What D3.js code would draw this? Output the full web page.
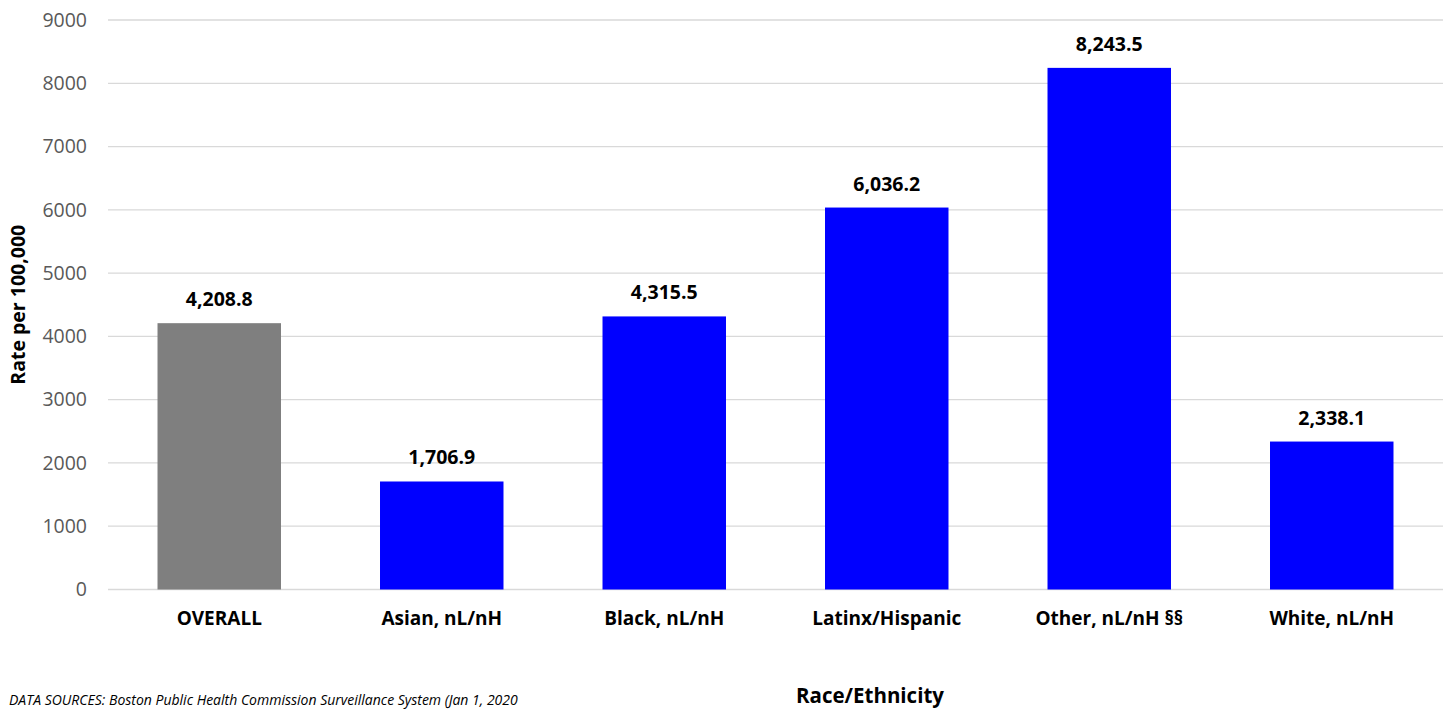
<!DOCTYPE html>
<html>
<head>
<meta charset="utf-8">
<script src="https://cdn.jsdelivr.net/npm/d3@7"></script>
<style>
  html, body { margin: 0; padding: 0; background: #fff; }
  svg { display: block; font-family: "Open Sans", "Noto Sans", sans-serif; }
</style>
</head>
<body>
<svg id="chart" width="1448" height="710"></svg>
<script>
// Case rate per 100,000 residents by race/ethnicity
const categories = ["OVERALL", "Asian, nL/nH", "Black, nL/nH", "Latinx/Hispanic", "Other, nL/nH §§", "White, nL/nH"];
const rates = [4208.8, 1706.9, 4315.5, 6036.2, 8243.5, 2338.1];
const barColors = ["#7f7f7f", "#0000ff", "#0000ff", "#0000ff", "#0000ff", "#0000ff"];
const yTicks = [0, 1000, 2000, 3000, 4000, 5000, 6000, 7000, 8000, 9000];

const svg = d3.select("#chart");
const margin = { left: 108, right: 5, top: 20, bottom: 120 };
const width = 1448, height = 710;

const x = d3.scaleBand()
  .domain(categories)
  .range([margin.left, width - margin.right])
  .paddingInner(0.445)
  .paddingOuter(0.2225);

const y = d3.scaleLinear()
  .domain([0, 9000])
  .range([589.5, margin.top]);

// Horizontal gridlines
svg.append("g")
  .selectAll("line")
  .data(yTicks)
  .join("line")
  .attr("x1", margin.left)
  .attr("x2", width - margin.right)
  .attr("y1", d => y(d))
  .attr("y2", d => y(d))
  .attr("stroke", "#d9d9d9")
  .attr("stroke-width", 1.3);

// Y axis tick labels
const yAxis = d3.axisLeft(y).tickValues(yTicks).tickSize(0).tickPadding(0).tickFormat(d3.format("d"));
const yg = svg.append("g").attr("transform", `translate(${87},0)`).call(yAxis);
yg.select(".domain").remove();
yg.selectAll("text")
  .attr("fill", "#595959")
  .style("font-size", "19.5px")
  .style("font-family", "'Open Sans', 'Noto Sans', sans-serif");

// Bars
svg.append("g")
  .selectAll("rect")
  .data(categories)
  .join("rect")
  .attr("x", d => x(d))
  .attr("width", x.bandwidth())
  .attr("y", (d, i) => y(rates[i]))
  .attr("height", (d, i) => y(0) - y(rates[i]))
  .attr("fill", (d, i) => barColors[i]);

// Value labels above bars
const fmt = d3.format(",.1f");
svg.append("g")
  .selectAll("text")
  .data(categories)
  .join("text")
  .attr("x", d => x(d) + x.bandwidth() / 2)
  .attr("y", (d, i) => y(rates[i]) - 17)
  .attr("text-anchor", "middle")
  .attr("font-weight", "bold")
  .attr("font-size", "19.5px")
  .attr("fill", "#000")
  .text((d, i) => fmt(rates[i]));

// Category labels
const xAxis = d3.axisBottom(x).tickSize(0).tickPadding(0);
const xg = svg.append("g").attr("transform", `translate(0,${611})`).call(xAxis);
xg.select(".domain").remove();
xg.selectAll("text")
  .attr("fill", "#000")
  .style("font-size", "19px")
  .style("font-weight", "bold")
  .style("font-family", "'Open Sans', 'Noto Sans', sans-serif");

// Axis titles
svg.append("text")
  .attr("transform", `translate(25,${(y(0) + y(9000)) / 2}) rotate(-90)`)
  .attr("text-anchor", "middle")
  .attr("font-weight", "bold")
  .attr("font-size", "19.5px")
  .attr("fill", "#000")
  .text("Rate per 100,000");

svg.append("text")
  .attr("x", 870)
  .attr("y", 703)
  .attr("text-anchor", "middle")
  .attr("font-weight", "bold")
  .attr("font-size", "20.5px")
  .attr("fill", "#000")
  .text("Race/Ethnicity");

// Source note
svg.append("text")
  .attr("x", 9)
  .attr("y", 705)
  .attr("font-style", "italic")
  .attr("font-size", "14px")
  .attr("fill", "#000")
  .text("DATA SOURCES: Boston Public Health Commission Surveillance System (Jan 1, 2020");
</script>
</body>
</html>
